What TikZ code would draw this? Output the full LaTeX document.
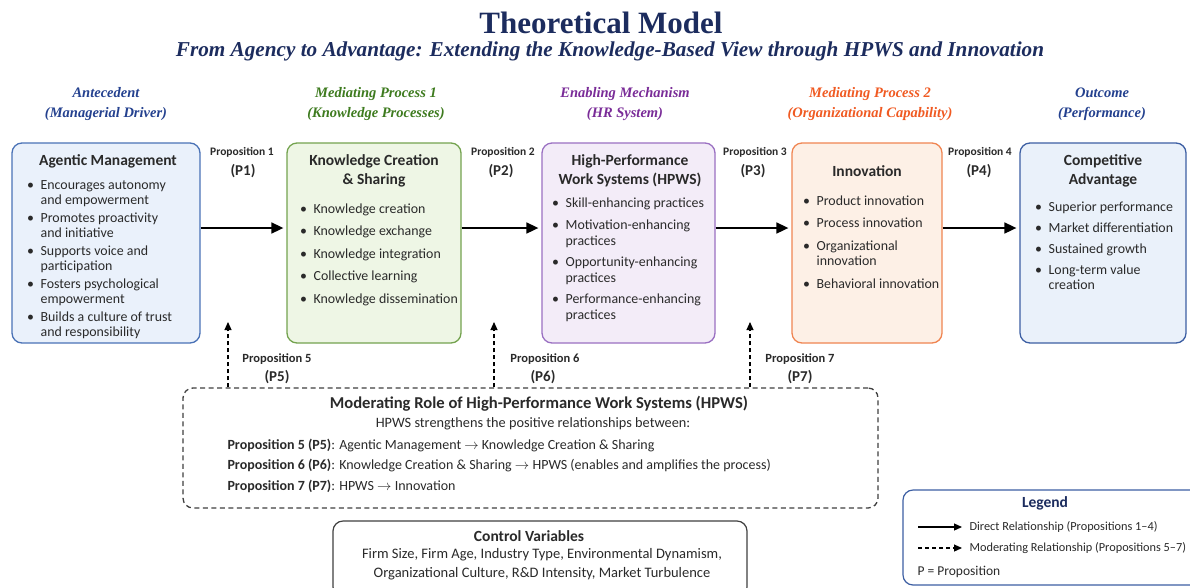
\documentclass[tikz,border=0pt]{standalone}
\usepackage{fontspec}
\setmainfont{Carlito}
\newfontfamily\serifhead{Liberation Serif}
\usetikzlibrary{arrows.meta}

% colours
\definecolor{navy}{HTML}{1C2C5E}
\definecolor{antblue}{HTML}{24418F}
\definecolor{medgreen}{HTML}{3E7B1F}
\definecolor{enpurple}{HTML}{7A2C98}
\definecolor{medorange}{HTML}{F05A22}
\definecolor{inktext}{HTML}{2A2A2A}
\definecolor{agfill}{HTML}{EAF1FB}
\definecolor{agline}{HTML}{4A72B6}
\definecolor{kcfill}{HTML}{EEF6E5}
\definecolor{kcline}{HTML}{74A34F}
\definecolor{hrfill}{HTML}{F3ECF8}
\definecolor{hrline}{HTML}{9A70C2}
\definecolor{infill}{HTML}{FDF0E6}
\definecolor{inoline}{HTML}{F08552}
\definecolor{cafill}{HTML}{EAF1FA}
\definecolor{caline}{HTML}{3D5FA3}

\tikzset{
  box/.style={draw, rounded corners=10pt, line width=1.3pt, minimum height=200pt, inner sep=0pt},
  boxtitle/.style={font=\fontsize{15.5}{19.5}\selectfont\bfseries, text=inktext, align=center},
  blist/.style={font=\fontsize{13.9}{15.5}\selectfont, text=inktext, anchor=north west, inner sep=0pt},
  colhead/.style={font=\serifhead\bfseries\itshape\fontsize{14.5}{20}\selectfont, align=center},
  proplabel/.style={font=\fontsize{11.5}{13}\selectfont\bfseries, text=inktext},
  proptag/.style={font=\fontsize{15}{17}\selectfont\bfseries, text=inktext},
  bodytext/.style={font=\fontsize{14}{16}\selectfont, text=inktext},
  direct/.style={-{Triangle[length=12pt,width=11pt]}, line width=1.7pt},
  moderating/.style={-{Triangle[length=8pt,width=7pt]}, line width=1.1pt, dash pattern=on 4pt off 3pt},
}

\begin{document}
\begin{tikzpicture}[x=1pt,y=-1pt]
  \useasboundingbox (0,0) rectangle (1190,587);
  \fill[white] (0,0) rectangle (1190,587);

  % title
  \node[font=\serifhead\bfseries\fontsize{31}{36}\selectfont, text=navy] (title) at (601,23) {Theoretical Model};
  \node[font=\serifhead\bfseries\itshape\fontsize{21.2}{24}\selectfont, text=navy] (subtitle) at (610,51)
    {From Agency to Advantage: Extending the Knowledge-Based View through HPWS and Innovation};

  % column headers
  \node[colhead, text=antblue] (h-ant) at (106,104) {Antecedent\\(Managerial Driver)};
  \node[colhead, text=medgreen] (h-med1) at (376,104) {Mediating Process 1\\(Knowledge Processes)};
  \node[colhead, text=enpurple] (h-en) at (625,104) {Enabling Mechanism\\(HR System)};
  \node[colhead, text=medorange] (h-med2) at (870,104) {Mediating Process 2\\(Organizational Capability)};
  \node[colhead, text=antblue] (h-out) at (1102,104) {Outcome\\(Performance)};

  % boxes
  \node[box, fill=agfill, draw=agline, minimum width=188pt] (agm) at (106,243) {};
  \node[box, fill=kcfill, draw=kcline, minimum width=174pt] (kcs) at (374,243) {};
  \node[box, fill=hrfill, draw=hrline, minimum width=173pt] (hpws) at (628.5,243) {};
  \node[box, fill=infill, draw=inoline, minimum width=150pt] (inn) at (867,243) {};
  \node[box, fill=cafill, draw=caline, minimum width=166pt] (ca) at (1103,243) {};

  % box contents
  \node[boxtitle] (agm-t) at (108,161) {Agentic Management};
  \node[blist] (agm-l) at (27,178) {\begin{tabular}{@{}l@{\hspace{6.5pt}}l@{}}
    \textbullet & Encourages autonomy\\ & and empowerment\\[2pt]
    \textbullet & Promotes proactivity\\ & and initiative\\[2pt]
    \textbullet & Supports voice and\\ & participation\\[2pt]
    \textbullet & Fosters psychological\\ & empowerment\\[2pt]
    \textbullet & Builds a culture of trust\\ & and responsibility
  \end{tabular}};

  \node[boxtitle] (kcs-t) at (374,171) {Knowledge Creation\\\& Sharing};
  \node[blist] (kcs-l) at (300,202) {\begin{tabular}{@{}l@{\hspace{6.5pt}}l@{}}
    \textbullet & Knowledge creation\\[7pt]
    \textbullet & Knowledge exchange\\[7pt]
    \textbullet & Knowledge integration\\[7pt]
    \textbullet & Collective learning\\[7pt]
    \textbullet & Knowledge dissemination
  \end{tabular}};

  \node[boxtitle] (hpws-t) at (630,171) {High-Performance\\Work Systems (HPWS)};
  \node[blist] (hpws-l) at (552,196) {\begin{tabular}{@{}l@{\hspace{6.5pt}}l@{}}
    \textbullet & Skill-enhancing practices\\[7pt]
    \textbullet & Motivation-enhancing\\ & practices\\[6pt]
    \textbullet & Opportunity-enhancing\\ & practices\\[6pt]
    \textbullet & Performance-enhancing\\ & practices
  \end{tabular}};

  \node[boxtitle] (inn-t) at (867,171) {Innovation};
  \node[blist] (inn-l) at (803,194) {\begin{tabular}{@{}l@{\hspace{6.5pt}}l@{}}
    \textbullet & Product innovation\\[7pt]
    \textbullet & Process innovation\\[7pt]
    \textbullet & Organizational\\ & innovation\\[7pt]
    \textbullet & Behavioral innovation
  \end{tabular}};

  \node[boxtitle] (ca-t) at (1103,171) {Competitive\\Advantage};
  \node[blist] (ca-l) at (1035,200) {\begin{tabular}{@{}l@{\hspace{6.5pt}}l@{}}
    \textbullet & Superior performance\\[5.5pt]
    \textbullet & Market differentiation\\[5.5pt]
    \textbullet & Sustained growth\\[5.5pt]
    \textbullet & Long-term value\\ & creation
  \end{tabular}};

  % direct relationships P1-P4
  \draw[direct] ([yshift=15pt]agm.east) -- ([yshift=15pt,xshift=-3pt]kcs.west);
  \draw[direct] ([yshift=15pt]kcs.east) -- ([yshift=15pt,xshift=-3pt]hpws.west);
  \draw[direct] ([yshift=15pt]hpws.east) -- ([yshift=15pt,xshift=-3pt]inn.west);
  \draw[direct] ([yshift=15pt]inn.east) -- ([yshift=15pt,xshift=-3pt]ca.west);

  \node[proplabel] (p1) at (242,152) {Proposition 1};
  \node[proptag] (p1-t) at (243,171) {(P1)};
  \node[proplabel] (p2) at (503,152) {Proposition 2};
  \node[proptag] (p2-t) at (501,171) {(P2)};
  \node[proplabel] (p3) at (755,152) {Proposition 3};
  \node[proptag] (p3-t) at (753,171) {(P3)};
  \node[proplabel] (p4) at (980,152) {Proposition 4};
  \node[proptag] (p4-t) at (979,171) {(P4)};

  % moderating role
  \node[draw=black!75, line width=1.3pt, dash pattern=on 5pt off 3.5pt, rounded corners=10pt,
        minimum width=695pt, minimum height=120pt] (mod) at (530.5,448) {};
  \node[font=\fontsize{16.6}{19}\selectfont\bfseries, text=inktext] (mod-t) at (539,404)
    {Moderating Role of High-Performance Work Systems (HPWS)};
  \node[bodytext, font=\fontsize{14.3}{16}\selectfont] (mod-s) at (533,424) {HPWS strengthens the positive relationships between:};
  \node[bodytext, anchor=west] (mod-5) at (224,445)
    {\textbf{Proposition 5 (P5)}: Agentic Management $\rightarrow$ Knowledge Creation \& Sharing};
  \node[bodytext, anchor=west] (mod-6) at (224,465)
    {\textbf{Proposition 6 (P6)}: Knowledge Creation \& Sharing $\rightarrow$ HPWS (enables and amplifies the process)};
  \node[bodytext, anchor=west] (mod-7) at (224,486)
    {\textbf{Proposition 7 (P7)}: HPWS $\rightarrow$ Innovation};

  \coordinate (m5) at (228,322);
  \coordinate (m6) at (494,322);
  \coordinate (m7) at (750,322);
  \draw[moderating] (m5 |- mod.north) -- (m5);
  \draw[moderating] (m6 |- mod.north) -- (m6);
  \draw[moderating] (m7 |- mod.north) -- (m7);

  \node[proplabel, font=\fontsize{12.5}{14}\selectfont\bfseries] (p5) at (277,359) {Proposition 5};
  \node[proptag] (p5-t) at (277,377) {(P5)};
  \node[proplabel, font=\fontsize{12.5}{14}\selectfont\bfseries] (p6) at (545,359) {Proposition 6};
  \node[proptag] (p6-t) at (543,377) {(P6)};
  \node[proplabel, font=\fontsize{12.5}{14}\selectfont\bfseries] (p7) at (800,359) {Proposition 7};
  \node[proptag] (p7-t) at (800,377) {(P7)};

  % control variables
  \node[draw=black!75, line width=1.2pt, rounded corners=10pt, fill=white,
        minimum width=414pt, minimum height=76pt] (ctrl) at (540,559) {};
  \node[font=\fontsize{15.5}{18}\selectfont\bfseries, text=inktext] (ctrl-t) at (529,536) {Control Variables};
  \node[bodytext, align=center, font=\fontsize{14.5}{19}\selectfont] (ctrl-l) at (542,564)
    {Firm Size, Firm Age, Industry Type, Environmental Dynamism,\\Organizational Culture, R\&D Intensity, Market Turbulence};

  % legend
  \node[draw=caline, line width=1.2pt, rounded corners=10pt, fill=white,
        minimum width=312pt, minimum height=95pt] (leg) at (1059,537.5) {};
  \node[font=\fontsize{15.5}{18}\selectfont\bfseries, text=navy] (leg-t) at (1045,503) {Legend};
  \coordinate (ld-a) at (918,527);
  \coordinate (ld-b) at (962,527);
  \coordinate (lm-a) at (918,548);
  \coordinate (lm-b) at (962,548);
  \draw[-{Triangle[length=8pt,width=7pt]}, line width=1.2pt] (ld-a) -- (ld-b);
  \draw[moderating] (lm-a) -- (lm-b);
  \node[bodytext, anchor=west, font=\fontsize{12.3}{15}\selectfont] (leg-d) at (966,527) {Direct Relationship (Propositions 1--4)};
  \node[bodytext, anchor=west, font=\fontsize{12.3}{15}\selectfont] (leg-m) at (966,548) {Moderating Relationship (Propositions 5--7)};
  \node[bodytext, anchor=west, font=\fontsize{13.5}{15}\selectfont] (leg-p) at (914,572) {P = Proposition};
\end{tikzpicture}
\end{document}
